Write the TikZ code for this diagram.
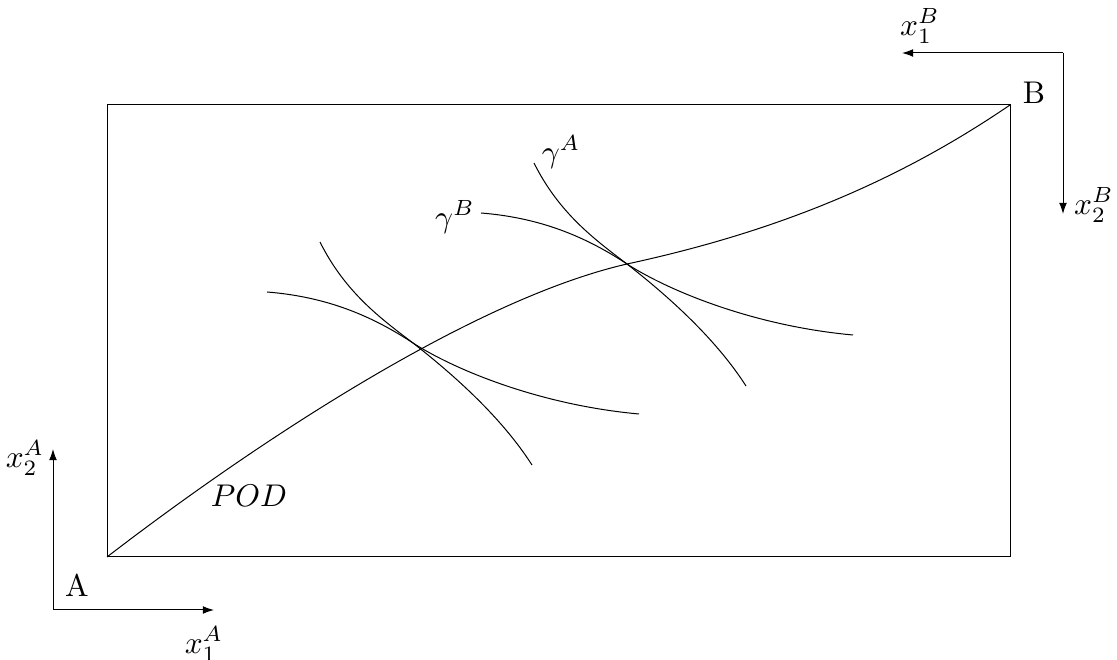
\documentclass[tikz,border=0pt]{standalone}
\usetikzlibrary{arrows.meta}
\begin{document}
\begin{tikzpicture}[x=0.36pt,y=-0.36pt,
  every node/.style={scale=1.13},
  line width=0.36pt,
  axis/.style={-{Latex[length=4pt,width=2.8pt]}},
  lbl/.style={inner sep=0pt}]
\useasboundingbox (0,0) rectangle (1117,660);
% box
\coordinate (A) at (107,557);
\coordinate (B) at (1010,105);
\draw (A) rectangle (B);
% POD curve
\coordinate (M) at (627,264);
\draw (A) .. controls (250,447) and (470,300) .. (M) .. controls (780,231) and (900,180) .. (B);
% lower pair of indifference curves
\coordinate (P) at (413,343);
\coordinate (a1s) at (320,242);
\coordinate (a1e) at (532,465);
\coordinate (b1s) at (267,292);
\coordinate (b1e) at (639,414);
\draw (a1s) .. controls (345,292) and (380,318) .. (P) .. controls (450,372) and (500,415) .. (a1e);
\draw (b1s) .. controls (330,297) and (375,318) .. (P) .. controls (455,370) and (540,405) .. (b1e);
% upper pair (translated copy)
\begin{scope}[shift={(214,-79)}]
\coordinate (Q) at (413,343);
\coordinate (a2s) at (320,242);
\coordinate (a2e) at (532,465);
\coordinate (b2s) at (267,292);
\coordinate (b2e) at (639,414);
\draw (a2s) .. controls (345,292) and (380,318) .. (Q) .. controls (450,372) and (500,415) .. (a2e);
\draw (b2s) .. controls (330,297) and (375,318) .. (Q) .. controls (455,370) and (540,405) .. (b2e);
\end{scope}
% labels
\node[lbl] (gA) at (561,152) {$\gamma^A$};
\node[lbl] (gB) at (455,217) {$\gamma^B$};
\node (labA) at (77,585) {A};
\node (labB) at (1034,93) {B};
\node (pod) at (249,496) {$POD$};
% axes of A
\coordinate (OA) at (53,610);
\coordinate (OAy) at (53,449);
\coordinate (OAx) at (214,610);
\draw[axis] (OA) -- (OAy);
\draw[axis] (OA) -- (OAx);
\node (xA2) at (25,458) {$x_2^A$};
\node (xA1) at (204,644) {$x_1^A$};
% axes of B
\coordinate (OB) at (1063,53);
\coordinate (OBx) at (902,53);
\coordinate (OBy) at (1063,214);
\draw[axis] (OB) -- (OBx);
\draw[axis] (OB) -- (OBy);
\node (xB1) at (920,26) {$x_1^B$};
\node (xB2) at (1094,205) {$x_2^B$};
\end{tikzpicture}
\end{document}
